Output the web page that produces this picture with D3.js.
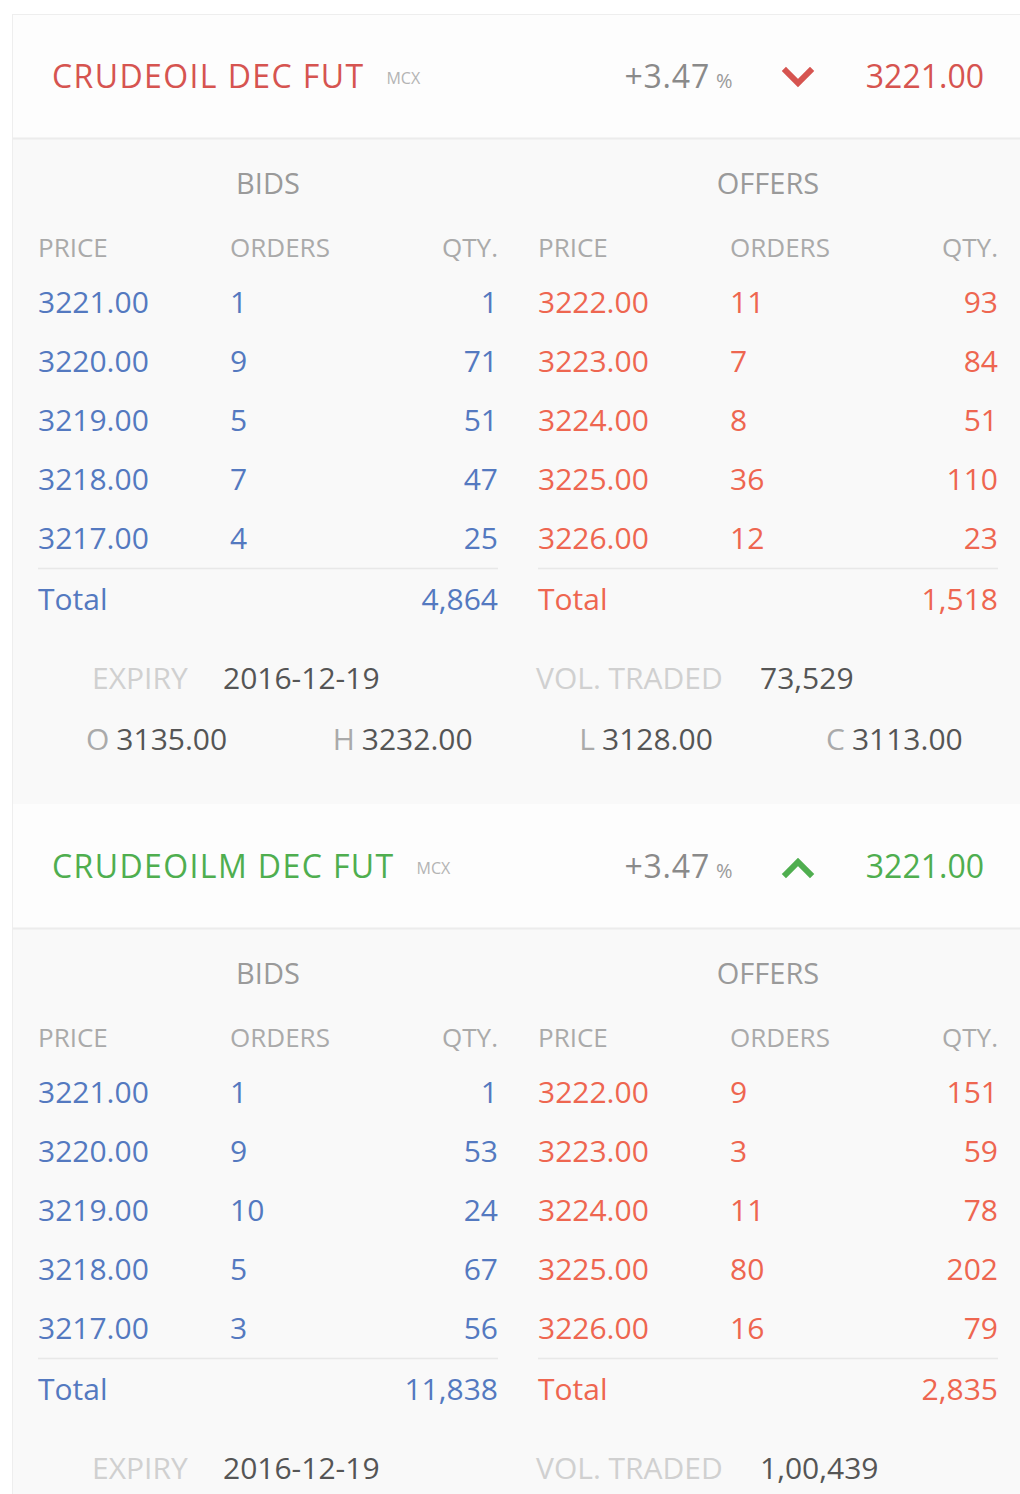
<!DOCTYPE html>
<html>
<head>
  <meta charset="utf-8">
  <script src="https://cdn.jsdelivr.net/npm/d3@7"></script>
  <title>Market depth</title>
  <style>
  body { margin: 0; background: #fff; }
  svg { display: block; font-family: "Open Sans", sans-serif; }
  </style>
</head>
<body>
  <div id="chart"></div>
  <script>
  // two instruments, top to bottom
  var symbols = ["CRUDEOIL DEC FUT", "CRUDEOILM DEC FUT"];
  var exchanges = ["MCX", "MCX"];
  var changePct = ["+3.47", "+3.47"];
  var lastPrice = [3221.00, 3221.00];
  var trend = ["down", "up"];

  var bidPrices = [[3221, 3220, 3219, 3218, 3217], [3221, 3220, 3219, 3218, 3217]];
  var bidOrders = [[1, 9, 5, 7, 4], [1, 9, 10, 5, 3]];
  var bidQty = [[1, 71, 51, 47, 25], [1, 53, 24, 67, 56]];
  var offerPrices = [[3222, 3223, 3224, 3225, 3226], [3222, 3223, 3224, 3225, 3226]];
  var offerOrders = [[11, 7, 8, 36, 12], [9, 3, 11, 80, 16]];
  var offerQty = [[93, 84, 51, 110, 23], [151, 59, 78, 202, 79]];
  var bidTotal = [4864, 11838];
  var offerTotal = [1518, 2835];

  var expiry = ["2016-12-19", "2016-12-19"];
  var volTraded = ["73,529", "1,00,439"];
  var ohlcLabels = ["O", "H", "L", "C"];
  var ohlcValues = [[3135, 3232, 3128, 3113], [3135, 3232, 3128, 3113]];

  var width = 1020, height = 1494, panelH = 790;
  var red = "#d65450", green = "#4fae4f", blue = "#5479c0", offerRed = "#ee6650";
  var fmtP = d3.format(".2f"), fmtN = d3.format(",");

  var svg = d3.select("#chart").append("svg").attr("width", width).attr("height", height);

  // row positions inside a panel
  var rowY = d3.scaleLinear().domain([0, 4]).range([313, 549]);
  // columns for each side
  var sides = [
    {x0: 38, title: "BIDS", prices: bidPrices, orders: bidOrders, qty: bidQty, total: bidTotal, color: blue},
    {x0: 538, title: "OFFERS", prices: offerPrices, orders: offerOrders, qty: offerQty, total: offerTotal, color: offerRed}
  ];
  var colX = d3.scaleOrdinal().domain(["price", "orders", "qty"]).range([0, 192, 460]);

  symbols.forEach(function(sym, i) {
    var g = svg.append("g").attr("transform", "translate(0," + (i * panelH) + ")");
    var tcol = trend[i] == "down" ? red : green;

    // panel background
    g.append("rect").attr("x", 12).attr("y", 14).attr("width", width - 12).attr("height", panelH)
      .attr("fill", "#f9f9f9");
    g.append("rect").attr("x", 12).attr("y", 14).attr("width", width - 12).attr("height", 124)
      .attr("fill", "#fdfdfd");
    g.append("line").attr("x1", 12).attr("x2", width).attr("y1", 138.5).attr("y2", 138.5)
      .attr("stroke", "#ececec").attr("stroke-width", 2);
    if (i == 0) {
      g.append("line").attr("x1", 12).attr("x2", width).attr("y1", 14.5).attr("y2", 14.5)
        .attr("stroke", "#eeeeee");
    }
    g.append("line").attr("x1", 12.5).attr("x2", 12.5).attr("y1", 14).attr("y2", 14 + panelH)
      .attr("stroke", "#eeeeee");

    // header
    var title = g.append("text").attr("x", 52).attr("y", 88).attr("font-size", 32)
      .attr("letter-spacing", 1.4).attr("fill", tcol).text(sym);
    var symW = title.node().getComputedTextLength();
    g.append("text").attr("x", 52 + symW + 22).attr("y", 84).attr("font-size", 16)
      .attr("fill", "#b4b4b4").text(exchanges[i]);
    g.append("text").attr("x", 710).attr("y", 88).attr("font-size", 32).attr("fill", "#8a8a8a")
      .attr("letter-spacing", 0.8).attr("text-anchor", "end").text(changePct[i]);
    g.append("text").attr("x", 716).attr("y", 88).attr("font-size", 20).attr("fill", "#9a9a9a")
      .text("%");
    var chev = trend[i] == "down" ? "M786,71 L798,83 L810,71" : "M786,84 L798,72 L810,84";
    g.append("path").attr("d", chev).attr("fill", "none").attr("stroke", tcol)
      .attr("stroke-width", 6).attr("stroke-linecap", "square");
    g.append("text").attr("x", 984).attr("y", 88).attr("font-size", 32).attr("fill", tcol)
      .attr("text-anchor", "end").text(fmtP(lastPrice[i]));

    // depth tables
    sides.forEach(function(s) {
      var sg = g.append("g").attr("transform", "translate(" + s.x0 + ",0)");
      sg.append("text").attr("x", 230).attr("y", 194).attr("text-anchor", "middle")
        .attr("font-size", 29).attr("fill", "#9a9a9a").text(s.title);
      sg.selectAll(".hd").data(["PRICE", "ORDERS", "QTY."]).enter().append("text")
        .attr("x", function(d, k) { return colX(["price", "orders", "qty"][k]); })
        .attr("y", 257).attr("font-size", 26).attr("fill", "#aaa")
        .attr("text-anchor", function(d, k) { return k == 2 ? "end" : "start"; })
        .text(function(d) { return d; });

      var rows = d3.range(5).map(function(r) {
        return {p: s.prices[i][r], o: s.orders[i][r], q: s.qty[i][r], r: r};
      });
      var rg = sg.selectAll(".row").data(rows).enter().append("g")
        .attr("transform", function(d) { return "translate(0," + rowY(d.r) + ")"; });
      rg.append("text").attr("x", colX("price")).attr("font-size", 30).attr("fill", s.color)
        .text(function(d) { return fmtP(d.p); });
      rg.append("text").attr("x", colX("orders")).attr("font-size", 30).attr("fill", s.color)
        .text(function(d) { return d.o; });
      rg.append("text").attr("x", colX("qty")).attr("font-size", 30).attr("fill", s.color)
        .attr("text-anchor", "end").text(function(d) { return d.q; });

      sg.append("line").attr("x1", 0).attr("x2", 460).attr("y1", 568.5).attr("y2", 568.5)
        .attr("stroke", "#e8e8e8").attr("stroke-width", 1.5);
      sg.append("text").attr("x", 0).attr("y", 610).attr("font-size", 30).attr("fill", s.color)
        .text("Total");
      sg.append("text").attr("x", 460).attr("y", 610).attr("font-size", 30).attr("fill", s.color)
        .attr("text-anchor", "end").text(fmtN(s.total[i]));
    });

    // expiry and volume
    g.append("text").attr("x", 92).attr("y", 689).attr("font-size", 30).attr("fill", "#d0d0d0")
      .text("EXPIRY");
    g.append("text").attr("x", 223).attr("y", 689).attr("font-size", 30).attr("fill", "#555")
      .text(expiry[i]);
    g.append("text").attr("x", 536).attr("y", 689).attr("font-size", 30).attr("fill", "#d0d0d0")
      .text("VOL. TRADED");
    g.append("text").attr("x", 760).attr("y", 689).attr("font-size", 30).attr("fill", "#555")
      .text(volTraded[i]);

    // open / high / low / close (second panel's row falls below the picture)
    if (i == 0) {
      var ox = d3.scalePoint().domain(ohlcLabels).range([86, 826]);
      var og = g.selectAll(".ohlc").data(ohlcLabels).enter().append("text")
        .attr("x", function(d) { return ox(d); }).attr("y", 750).attr("font-size", 30);
      og.append("tspan").attr("fill", "#aaa").text(function(d) { return d; });
      og.append("tspan").attr("fill", "#555").attr("dx", 7)
        .text(function(d, k) { return fmtP(ohlcValues[i][k]); });
    }
  });
  </script>
</body>
</html>
